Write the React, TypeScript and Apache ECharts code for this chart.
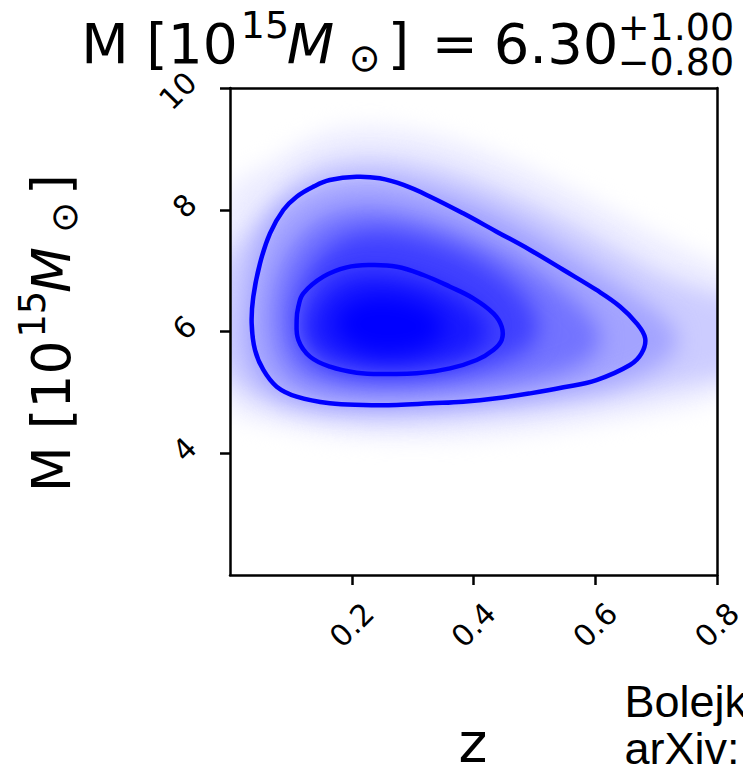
import React, { useEffect, useRef } from "react";
import * as echarts from "echarts";

// ---------- axes ----------
const xMin = 0;
const xMax = 0.8;
const xStep = 0.2;
const yMin = 2;
const yMax = 10;
const yStep = 2;
const xTickValues = [0.2, 0.4, 0.6, 0.8];
const yTickValues = [4, 6, 8, 10];

// ---------- credible contours [z, M] ----------
const contour95: number[][] = [
  [0.137, 8.38], [0.164, 8.489], [0.208, 8.543], [0.246, 8.516], [0.285, 8.407],
  [0.329, 8.215], [0.383, 7.941], [0.438, 7.64], [0.493, 7.339], [0.548, 7.01],
  [0.602, 6.682], [0.641, 6.408], [0.668, 6.134], [0.682, 5.888], [0.676, 5.641],
  [0.657, 5.45], [0.602, 5.203], [0.548, 5.083], [0.493, 4.984], [0.438, 4.902],
  [0.383, 4.847], [0.329, 4.82], [0.274, 4.793], [0.219, 4.793], [0.164, 4.82],
  [0.1095, 4.93], [0.0767, 5.094], [0.0548, 5.368], [0.0411, 5.696], [0.0356, 6.134],
  [0.0383, 6.572], [0.0493, 7.12], [0.0657, 7.613], [0.0876, 7.996], [0.1095, 8.215],
];
const contour68: number[][] = [
  [0.1205, 6.627], [0.1533, 6.901], [0.1916, 7.054], [0.23, 7.092], [0.274, 7.065],
  [0.3176, 6.928], [0.3614, 6.736], [0.3997, 6.545], [0.4326, 6.298], [0.4463, 6.079],
  [0.4463, 5.86], [0.4326, 5.696], [0.4052, 5.532], [0.3614, 5.395], [0.3066, 5.313],
  [0.2574, 5.302], [0.2081, 5.324], [0.1643, 5.422], [0.1314, 5.587], [0.1123, 5.86],
  [0.1095, 6.189], [0.1123, 6.408],
];

// ---------- density shading: level outlines [z, M] with relative intensity ----------
const densityLevels = [0.07, 0.2, 0.36, 0.55, 0.75, 0.9, 1.0];
const density1: number[][] = [
  [-0.03, 8.3], [0.074, 8.79], [0.128, 9.2], [0.21, 9.4], [0.32, 9.3], [0.43, 8.95],
  [0.54, 8.46], [0.65, 7.86], [0.73, 7.42], [0.86, 6.85], [0.86, 5.0], [0.65, 4.58],
  [0.485, 4.32], [0.32, 4.22], [0.183, 4.27], [0.074, 4.46], [-0.03, 4.7],
];
const density2: number[][] = [
  [-0.03, 5.4], [-0.03, 6.9], [0.025, 7.59], [0.074, 8.2], [0.128, 8.7], [0.21, 8.9],
  [0.32, 8.78], [0.43, 8.4], [0.54, 7.9], [0.65, 7.25], [0.73, 6.8], [0.86, 6.45],
  [0.86, 5.35], [0.7, 5.05], [0.59, 4.82], [0.43, 4.62], [0.265, 4.5], [0.128, 4.6],
  [0.046, 4.85],
];
const density3: number[][] = [
  [0.022, 6.22], [0.04, 7.42], [0.09, 8.2], [0.21, 8.6], [0.348, 8.33], [0.485, 7.75],
  [0.62, 6.88], [0.73, 6.15], [0.74, 5.65], [0.65, 5.15], [0.485, 4.87], [0.265, 4.7],
  [0.128, 4.77], [0.052, 5.08], [0.025, 5.56],
];
const density4: number[][] = [
  [0.063, 6.22], [0.085, 7.21], [0.14, 7.86], [0.222, 8.08], [0.331, 7.86], [0.457, 7.31],
  [0.567, 6.55], [0.62, 5.89], [0.578, 5.4], [0.457, 5.12], [0.293, 4.96], [0.156, 5.01],
  [0.085, 5.34],
];
const density5: number[][] = [
  [0.101, 6.22], [0.123, 6.98], [0.172, 7.53], [0.238, 7.7], [0.331, 7.53], [0.43, 7.09],
  [0.496, 6.49], [0.512, 5.89], [0.457, 5.5], [0.32, 5.23], [0.2, 5.23], [0.123, 5.5],
];
const density6: number[][] = [
  [0.125, 6.22], [0.168, 6.85], [0.238, 7.0], [0.335, 6.78], [0.412, 6.33], [0.43, 5.89],
  [0.38, 5.53], [0.266, 5.4], [0.168, 5.53], [0.13, 5.83],
];
const density7: number[][] = [
  [0.158, 6.16], [0.215, 6.62], [0.305, 6.55], [0.365, 6.11], [0.32, 5.66], [0.215, 5.6],
];
const densityShapes = [density1, density2, density3, density4, density5, density6, density7];

const FONT = '"DejaVu Sans", sans-serif';
const SANS = '"Liberation Sans", Arial, sans-serif';
const BLUE = "#0000ff";

function levelColor(t: number) {
  const c = Math.round(255 * (1 - t));
  return `rgb(${c},${c},255)`;
}

function piece(text: string, x: number, baseY: number, size: number, italic = false, family = FONT, align = "left") {
  return {
    type: "text",
    x,
    y: baseY - 0.35 * size,
    silent: true,
    style: {
      text,
      fontSize: size,
      fontFamily: family,
      fontStyle: italic ? "italic" : "normal",
      fill: "#000",
      align,
      verticalAlign: "middle",
      lineHeight: Math.round(size * 0.8),
    },
  };
}

function massLabelPieces() {
  return [
    piece("M [10", -5.4, 0, 55),
    piece("15", 154, -25, 38),
    piece("M", 200, 0, 55, true),
    piece("\u2299", 262, 8, 38),
    piece("]", 301, 0, 55),
  ];
}

function smoothClosedPath(ctx: CanvasRenderingContext2D, pts: number[][]) {
  const n = pts.length;
  const mid = (a: number[], b: number[]) => [(a[0] + b[0]) / 2, (a[1] + b[1]) / 2];
  const m0 = mid(pts[n - 1], pts[0]);
  ctx.moveTo(m0[0], m0[1]);
  for (let i = 0; i < n; i++) {
    const p = pts[i];
    const m = mid(p, pts[(i + 1) % n]);
    ctx.quadraticCurveTo(p[0], p[1], m[0], m[1]);
  }
  ctx.closePath();
}

function densitySeries() {
  return {
    type: "custom",
    coordinateSystem: "cartesian2d",
    silent: true,
    z: 2,
    data: density1,
    renderItem: (params: any, api: any) => {
      if (params.dataIndex !== 0) return null;
      const cs = params.coordSys;
      const pad = 80;
      const gw = Math.round(cs.width);
      const gh = Math.round(cs.height);
      const big = document.createElement("canvas");
      big.width = gw + 2 * pad;
      big.height = gh + 2 * pad;
      const ctx = big.getContext("2d")!;
      ctx.filter = "blur(11px)";
      densityShapes.forEach((shape, i) => {
        const pts = shape.map((p) => {
          const c = api.coord(p);
          return [c[0] - cs.x + pad, c[1] - cs.y + pad];
        });
        ctx.fillStyle = levelColor(densityLevels[i]);
        ctx.beginPath();
        smoothClosedPath(ctx, pts);
        ctx.fill();
      });
      const out = document.createElement("canvas");
      out.width = gw;
      out.height = gh;
      out.getContext("2d")!.drawImage(big, pad, pad, gw, gh, 0, 0, gw, gh);
      return {
        type: "image",
        style: { image: out, x: cs.x, y: cs.y, width: gw, height: gh },
      };
    },
  };
}

function contourSeries(pts: number[][]) {
  return {
    type: "custom",
    coordinateSystem: "cartesian2d",
    clip: true,
    silent: true,
    z: 3,
    data: pts,
    renderItem: (params: any, api: any) => {
      if (params.dataIndex !== 0) return null;
      const points = pts.map((p) => api.coord(p));
      return {
        type: "polygon",
        shape: { points, smooth: 0.4 },
        style: { fill: "none", stroke: BLUE, lineWidth: 4.5 },
      };
    },
  };
}

export default function App() {
  const ref = useRef<HTMLDivElement>(null);
  useEffect(() => {
    const chart = echarts.init(ref.current!, null, { renderer: "svg" });
    const axisLineStyle = { color: "#000", width: 2.5 };
    const option: any = {
      animation: false,
      backgroundColor: "#fff",
      grid: {
        left: 230,
        top: 88,
        width: 487,
        height: 487,
        containLabel: false,
        outerBoundsMode: "none",
        show: false,
      },
      xAxis: [
        {
          type: "value",
          min: xMin,
          max: xMax,
          interval: xStep,
          z: 10,
          axisLine: { show: true, onZero: false, lineStyle: axisLineStyle },
          axisTick: { show: true, length: 10, lineStyle: axisLineStyle, customValues: xTickValues },
          axisLabel: {
            customValues: xTickValues,
            rotate: 45,
            margin: 50,
            align: "center",
            verticalAlign: "middle",
            fontSize: 30,
            fontFamily: FONT,
            color: "#000",
            hideOverlap: false,
            formatter: (v: number) => v.toFixed(1),
          },
          splitLine: { show: false },
        },
        {
          type: "value",
          position: "top",
          min: xMin,
          max: xMax,
          interval: xStep,
          z: 10,
          axisLine: { show: true, onZero: false, lineStyle: axisLineStyle },
          axisTick: { show: false },
          axisLabel: { show: false },
          splitLine: { show: false },
        },
      ],
      yAxis: [
        {
          type: "value",
          min: yMin,
          max: yMax,
          interval: yStep,
          z: 10,
          axisLine: { show: true, onZero: false, lineStyle: axisLineStyle },
          axisTick: { show: true, length: 10, lineStyle: axisLineStyle, customValues: yTickValues },
          axisLabel: {
            customValues: yTickValues,
            rotate: 45,
            margin: 28,
            align: "right",
            verticalAlign: "bottom",
            fontSize: 30,
            fontFamily: FONT,
            color: "#000",
            hideOverlap: false,
          },
          splitLine: { show: false },
        },
        {
          type: "value",
          position: "right",
          min: yMin,
          max: yMax,
          interval: yStep,
          z: 10,
          axisLine: { show: true, onZero: false, lineStyle: axisLineStyle },
          axisTick: { show: false },
          axisLabel: { show: false },
          splitLine: { show: false },
        },
      ],
      series: [densitySeries(), contourSeries(contour95), contourSeries(contour68)],
      graphic: [
        {
          type: "group",
          x: 86.7,
          y: 63,
          children: [
            ...massLabelPieces(),
            piece("=", 345, 0, 55),
            piece("6.30", 407, 0, 56),
            piece("+1.00", 531, -23, 38),
            piece("\u22120.80", 531, 12, 38),
          ],
        },
        {
          type: "group",
          x: 70,
          y: 487,
          rotation: Math.PI / 2,
          scaleX: 0.97,
          scaleY: 0.97,
          children: massLabelPieces(),
        },
        piece("z", 473, 762, 55, false, FONT, "center"),
        piece("Bolejko", 624.5, 717, 45, false, SANS),
        piece("arXiv:", 624.5, 764, 45, false, SANS),
      ],
    };
    chart.setOption(option);
    return () => chart.dispose();
  }, []);
  return (
    <div
      ref={ref}
      style={{ position: "absolute", left: 0, top: 0, width: 743, height: 768, background: "#fff" }}
    />
  );
}
